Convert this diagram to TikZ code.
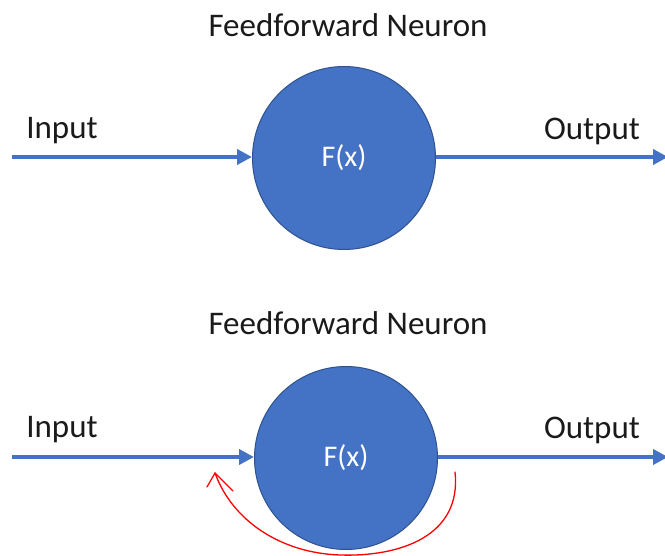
\documentclass[tikz,border=0pt]{standalone}
\usepackage{fontspec}
\setmainfont{Carlito}
\usetikzlibrary{arrows.meta}
\definecolor{nblue}{HTML}{4472C4}
\definecolor{nedge}{HTML}{2F528F}
\definecolor{ink}{HTML}{1A1A1A}
\tikzset{
  neuron/.style={circle, fill=nblue, draw=nedge, line width=1pt,
    minimum size=183pt, inner sep=0pt, text=white,
    font=\fontsize{30}{36}\selectfont},
  lbl/.style={text=ink, font=\fontsize{33}{39}\selectfont, inner sep=0pt},
  flow/.style={draw=nblue, line width=4pt,
    -{Triangle[length=15pt,width=15pt]}},
  scribble/.style={draw=red, line width=1.3pt, line cap=round, line join=round}
}
\begin{document}
\begin{tikzpicture}[x=1pt,y=-1pt]
\useasboundingbox (0,0) rectangle (665,556);
\fill[white] (0,0) rectangle (665,556);

% upper neuron
\node[lbl] (t1) at (348,25) {Feedforward Neuron};
\node[neuron] (n1) at (344,158) {F(x)};
\coordinate (in1) at (12,157);
\coordinate (out1) at (668,157);
\node[lbl] (i1) at (62,131) {Input};
\node[lbl] (o1) at (592,131) {Output};
\draw[flow] (in1) -- (n1.west |- in1);
\draw[flow] (n1.east |- out1) -- (out1);

% lower neuron
\node[lbl] (t2) at (348,323) {Feedforward Neuron};
\node[neuron] (n2) at (346,458) {F(x)};
\coordinate (in2) at (12,457);
\coordinate (out2) at (668,457);
\node[lbl] (i2) at (62,430) {Input};
\node[lbl] (o2) at (592,430) {Output};
\draw[flow] (in2) -- (n2.west |- in2);
\draw[flow] (n2.east |- out2) -- (out2);

% hand-drawn feedback loop
\coordinate (fs) at (455,472);
\coordinate (fb) at (340,555);
\coordinate (ft) at (215,473);
\draw[scribble] (fs) .. controls (462,536) and (400,557) .. (fb)
  .. controls (280,553) and (232,520) .. (ft);
\draw[scribble] (207,487) -- (ft) -- (233,491);
\end{tikzpicture}
\end{document}
